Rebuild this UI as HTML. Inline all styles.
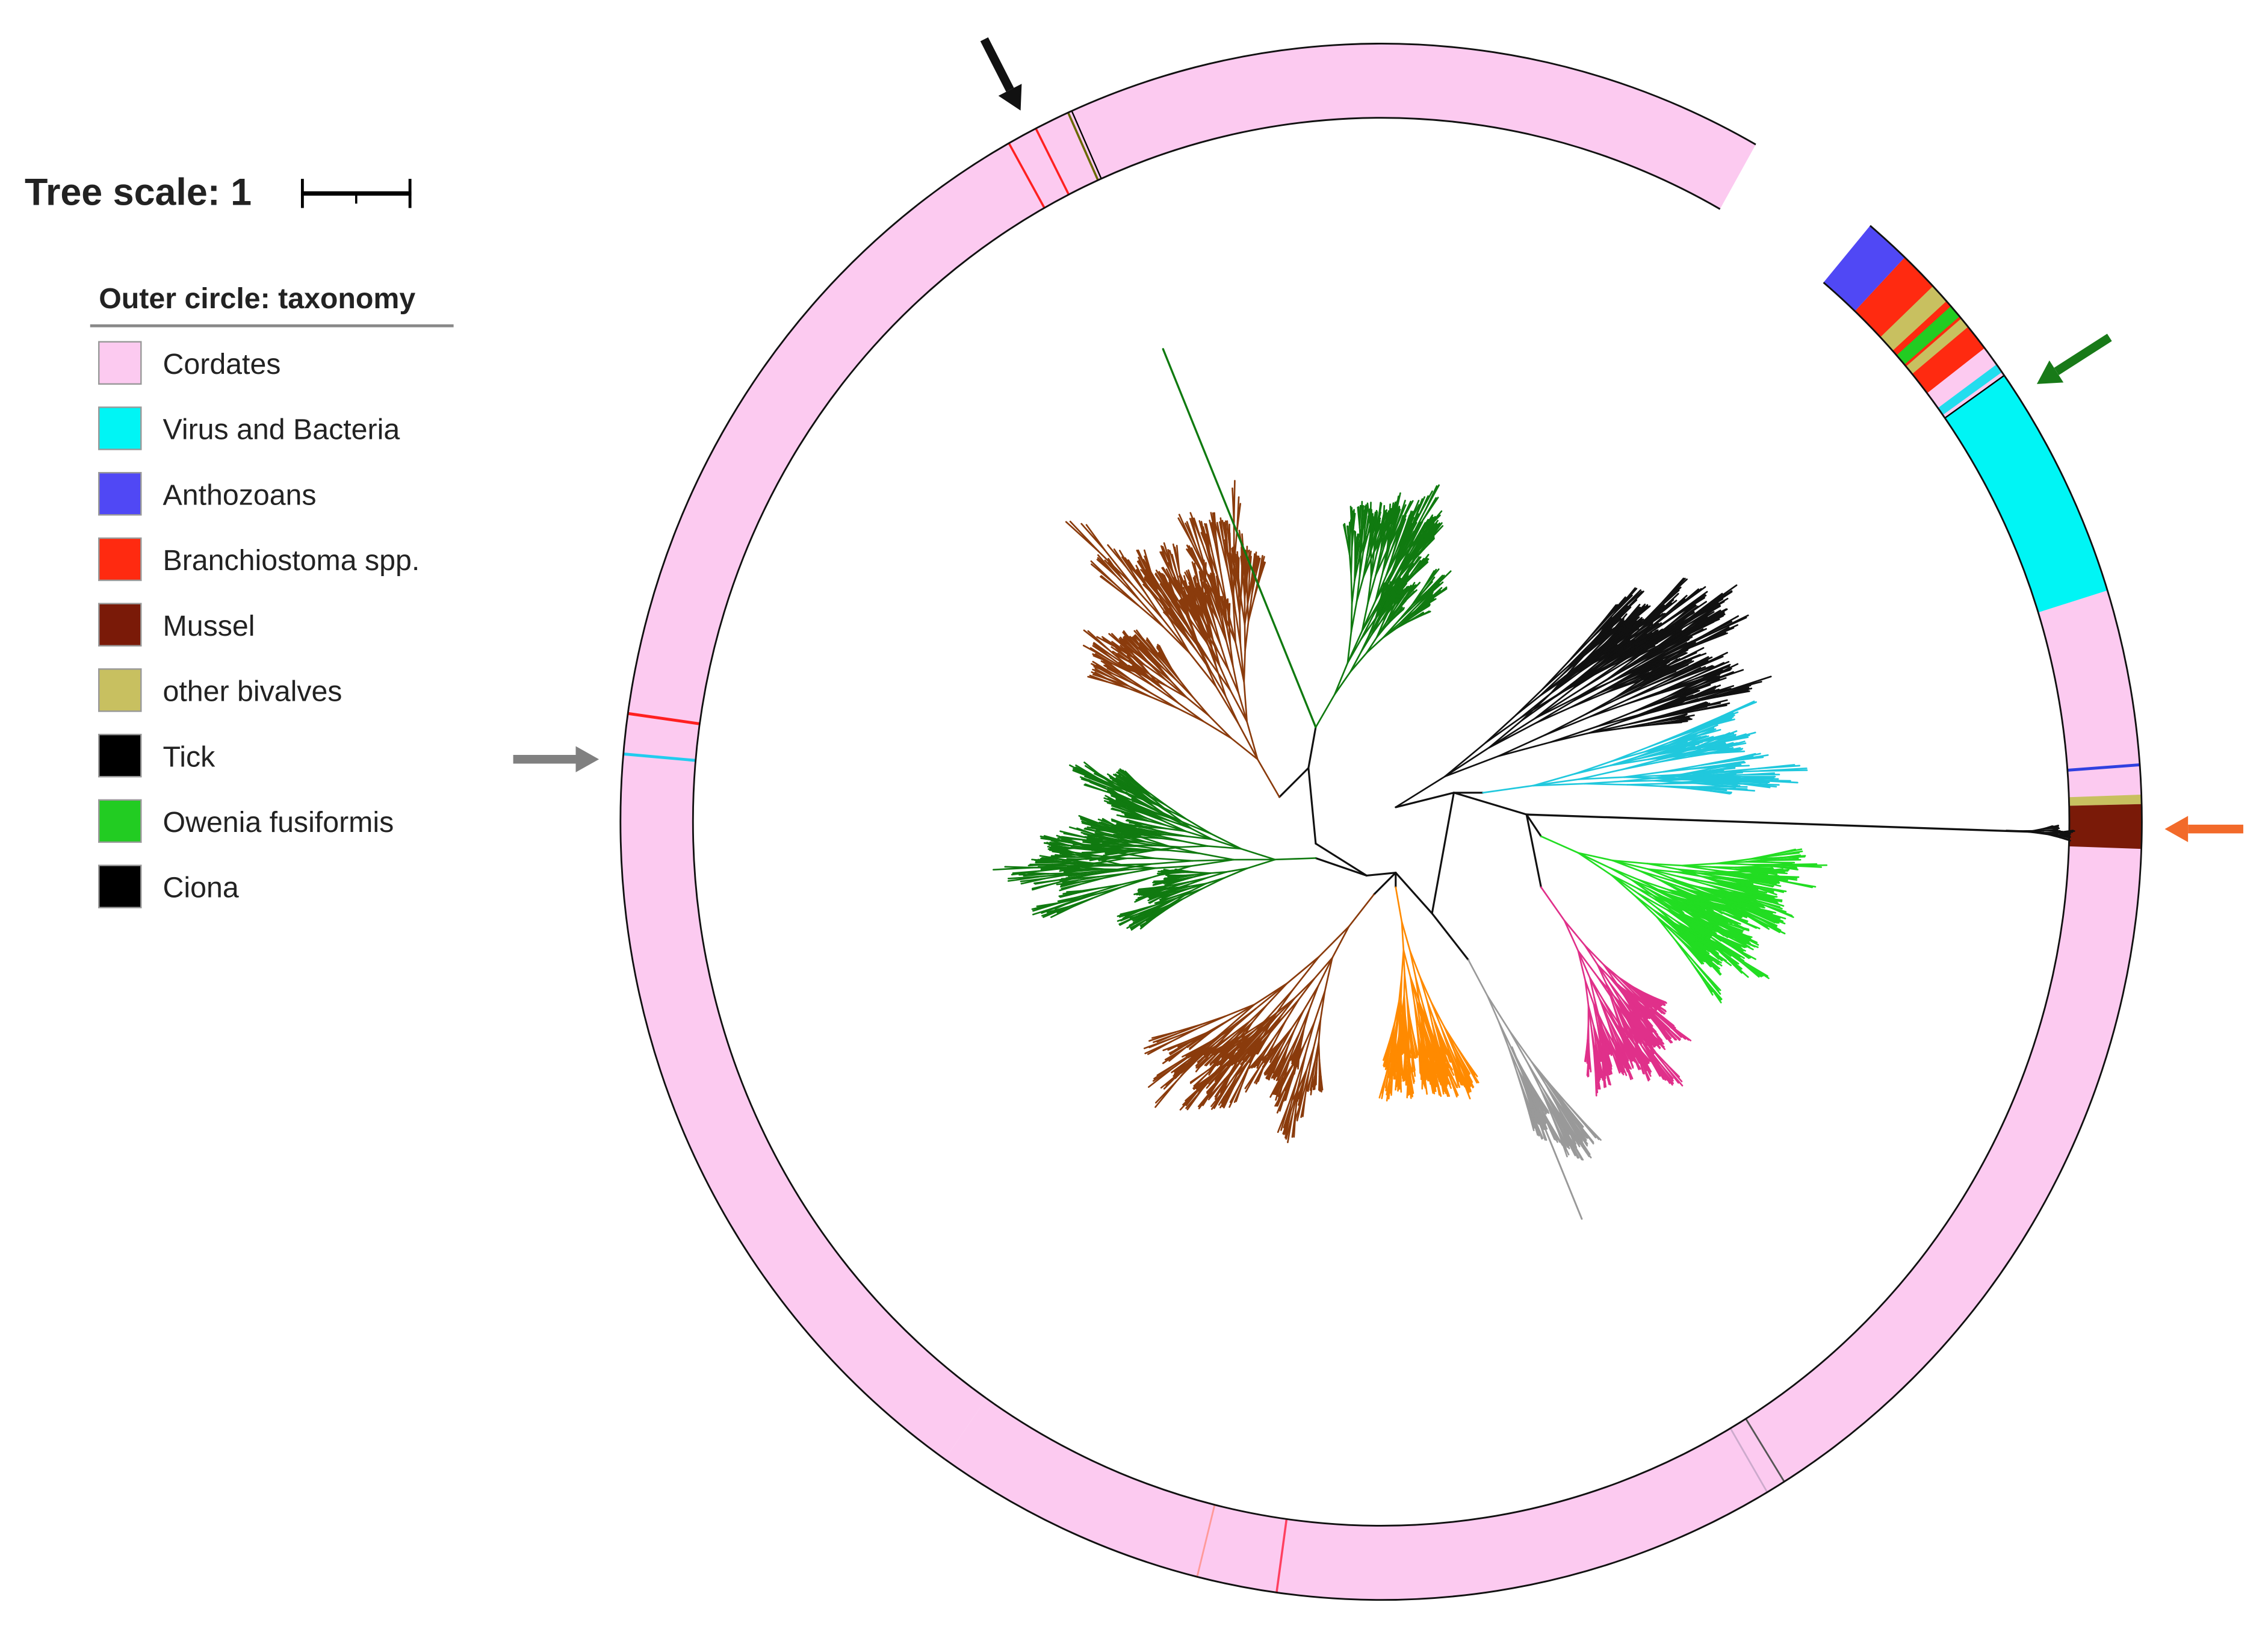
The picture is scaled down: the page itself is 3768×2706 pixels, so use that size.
<!DOCTYPE html>
<html><head><meta charset="utf-8">
<style>
html,body{margin:0;padding:0;background:#fff;}
svg{display:block;}
text{font-family:"Liberation Sans",sans-serif;fill:#222;}
</style></head>
<body>
<svg id="s" width="3768" height="2706" viewBox="0 0 1560 1120" preserveAspectRatio="none" xmlns="http://www.w3.org/2000/svg">
<rect width="1560" height="1120" fill="#fff"/>
<g id="ring" transform="translate(950 0) scale(0.978 1) translate(-950 0)"></g>
<g id="tree" fill="none" stroke-linecap="round"></g>
<text x="17" y="141" font-size="26" font-weight="bold" fill="#444">Tree scale: 1</text>
<line x1="207" y1="133" x2="283" y2="133" stroke="#000" stroke-width="3"/>
<line x1="208" y1="123" x2="208" y2="143" stroke="#000" stroke-width="2"/>
<line x1="282" y1="123" x2="282" y2="143" stroke="#000" stroke-width="2"/>
<line x1="245" y1="133" x2="245" y2="140" stroke="#000" stroke-width="1.5"/>
<text x="68" y="212" font-size="20" font-weight="bold" fill="#111">Outer circle: taxonomy</text>
<line x1="62" y1="224" x2="312" y2="224" stroke="#888" stroke-width="2"/>
<g id="leg" font-size="20"></g>
<g id="arrows"></g>
</svg>
<script>
var NS="http://www.w3.org/2000/svg";
function el(p,t,a){var e=document.createElementNS(NS,t);for(var k in a)e.setAttribute(k,a[k]);p.appendChild(e);return e;}
var ring=document.getElementById('ring'),tree=document.getElementById('tree');
var cx=950,cy=565,Ro=535,Ri=484;
function P(r,a){var t=a*Math.PI/180;return [cx+r*Math.cos(t),cy-r*Math.sin(t)];}
function seg(a1,a2,col){
  var l=(a2-a1)>180?1:0;var p1=P(Ro,a1),p2=P(Ro,a2),p3=P(Ri,a2),p4=P(Ri,a1);
  el(ring,'path',{d:'M'+p1+' A'+Ro+' '+Ro+' 0 '+l+' 0 '+p2+' L'+p3+' A'+Ri+' '+Ri+' 0 '+l+' 1 '+p4+' Z',fill:col,stroke:'none'});
}
function line(a,col,w){var p=P(Ro,a),q=P(Ri,a);el(ring,'line',{x1:p[0],y1:p[1],x2:q[0],y2:q[1],stroke:col,'stroke-width':w||1.5});}
var pink='#fccaf0';
seg(60.5,235,pink);seg(235,410,pink);
seg(46.5,50,'#5048f5');
seg(37.5,46.5,'#ff2a10');
seg(42,43.5,'#c8c060');seg(40.5,41.5,'#22cc22');seg(39.5,40.3,'#c8c060');
seg(36,37.5,'#fccaf0');seg(35.3,36,'#22ddee');
seg(17.3,35,'#00f5f5');
seg(1.3,2,'#c8c060');seg(-2,1.3,'#7a1a08');
line(4.2,'#3040e0',2);line(35,'#000',1);
line(117,'#ff2020',1.5);line(119.3,'#ff2020',1.5);line(114.3,'#6a6a00',1.5);line(114,'#000',1);
line(172,'#ff2020',2);line(175,'#22ccee',2);
line(-104,'#ff9999',1.2);line(-97.9,'#ff4060',1.5);line(-58,'#555',1.2);line(-59.5,'#ccaacc',1.2);
function arc(r,a1,a2){var l=(a2-a1)>180?1:0;var p1=P(r,a1),p2=P(r,a2);el(ring,'path',{d:'M'+p1+' A'+r+' '+r+' 0 '+l+' 0 '+p2,fill:'none',stroke:'#111','stroke-width':1.2});}
arc(Ro,60.5,235);arc(Ro,235,410);arc(Ri,60.5,235);arc(Ri,235,410);
var seed=7;function R(){seed=(seed*16807)%2147483647;return seed/2147483647;}
function L(x1,y1,x2,y2,c,w){el(tree,'line',{x1:x1,y1:y1,x2:x2,y2:y2,stroke:c,'stroke-width':w||1.1});}
function grow(x,y,ang,len,d,sp,c){
  var t=ang*Math.PI/180,x2=x+len*Math.cos(t),y2=y+len*Math.sin(t);L(x,y,x2,y2,c);
  if(d<=0)return;var n=R()<0.3?3:2;
  for(var i=0;i<n;i++){var a=ang+(i-(n-1)/2)*sp*(0.7+R()*0.6)+(R()-0.5)*sp*0.4;grow(x2,y2,a,len*(0.7+R()*0.35),d-1,sp*0.8,c);}
}
var br='#8a3b0c',gr='#107a10',bk='#111';
[[900,528,905,580],[905,580,940,602],[940,602,960,600],[960,600,985,628],[985,628,1000,545],[1000,545,1050,560],[900,528,880,548],[900,528,905,500],[940,602,905,590],[960,600,945,615],[960,600,960,610],[1000,545,960,555],[1000,545,1020,545],[1050,560,1060,575],[1050,560,1060,610],[985,628,1010,660]].forEach(function(a){L(a[0],a[1],a[2],a[3],bk,1.3);});
grow(880,548,-120,30,7,16,br);
grow(905,500,-60,26,7,15,gr);
L(905,500,800,240,gr,1.4);
grow(960,555,-32,40,7,9,bk);
grow(1020,545,-8,35,6,8,'#20c8dd');
L(1050,560,1400,572,bk,1.4);grow(1380,571,2,10,4,10,bk);
grow(1060,575,24,28,7,11,'#22dd22');
grow(1060,610,55,28,7,13,'#e0308a');
grow(1010,660,62,28,6,7,'#999');L(1040,720,1088,838,'#999',1.2);
grow(960,610,80,24,7,11,'#ff8a00');
grow(945,615,128,28,7,15,br);
grow(905,590,178,28,7,15,gr);
var leg=document.getElementById('leg');
[['Cordates','#fccaf0'],['Virus and Bacteria','#00f5f5'],['Anthozoans','#5048f5'],['Branchiostoma spp.','#ff2a10'],['Mussel','#7a1a08'],['other bivalves','#c8c060'],['Tick','#000'],['Owenia fusiformis','#22cc22'],['Ciona','#000']].forEach(function(it,i){
  var y=235+i*45;el(leg,'rect',{x:68,y:y,width:29,height:29,fill:it[1],stroke:'#999','stroke-width':1});
  var t=el(leg,'text',{x:112,y:y+22});t.textContent=it[0];});
var ar=document.getElementById('arrows');
function arrow(x1,y1,x2,y2,c){var a=Math.atan2(y2-y1,x2-x1),h=16,w=9;
  var bx=x2-h*Math.cos(a),by=y2-h*Math.sin(a);
  el(ar,'line',{x1:x1,y1:y1,x2:bx,y2:by,stroke:c,'stroke-width':6});
  el(ar,'polygon',{points:x2+','+y2+' '+(bx+w*Math.sin(a))+','+(by-w*Math.cos(a))+' '+(bx-w*Math.sin(a))+','+(by+w*Math.cos(a)),fill:c});}
arrow(677,27,702,76,'#111');
arrow(1451,232,1401,264,'#187a18');
arrow(353,522,412,522,'#808080');
arrow(1543,570,1489,570,'#f26a2a');
</script>
</body></html>
